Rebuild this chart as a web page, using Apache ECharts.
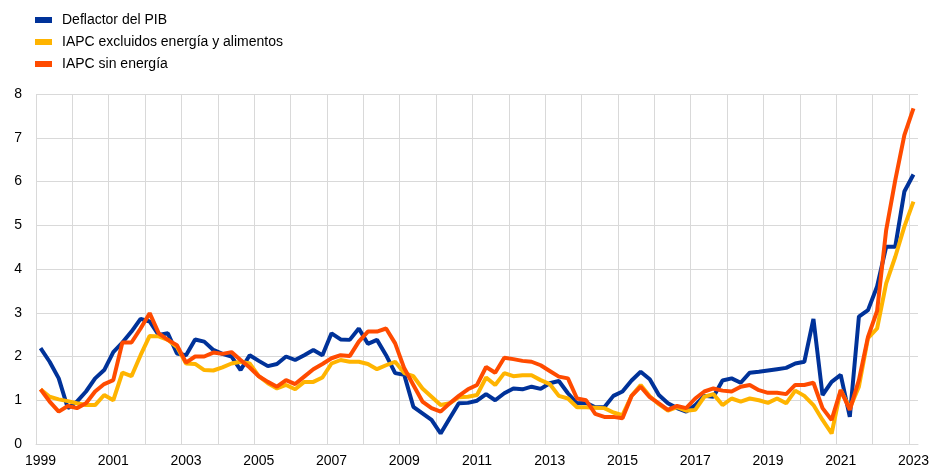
<!DOCTYPE html>
<html>
<head>
    <meta charset="utf-8">
    <title>Deflactor del PIB e IAPC</title>
    <style>
        body {margin: 0; background: #fff;}
        #main {width: 933px; height: 471px;}
    </style>
</head>
<body>
<div id="main"></div>
<script src="https://cdn.jsdelivr.net/npm/echarts@6/dist/echarts.min.js"></script>
<script type="text/javascript">
// trimestres 1999T1 - 2023T1
var quarters = [];
for (var y = 1999; y <= 2023; y++) {
    for (var q = 1; q <= 4; q++) {
        if (y === 2023 && q > 1) break;
        quarters.push(y + ' T' + q);
    }
}

var deflactor = [
    2.19, 1.88, 1.5, 0.82,   0.97, 1.2, 1.5, 1.69,    2.1, 2.32, 2.57, 2.86,
    2.8, 2.49, 2.53, 2.07,   2.03, 2.39, 2.34, 2.15,  2.06, 2.0, 1.69, 2.03,
    1.9, 1.78, 1.83, 2.0,    1.92, 2.03, 2.15, 2.03,  2.53, 2.39, 2.38, 2.64,
    2.29, 2.38, 2.03, 1.62,  1.58, 0.85, 0.7, 0.55,   0.24, 0.59, 0.93, 0.94,
    0.99, 1.14, 1.0, 1.16,   1.27, 1.25, 1.31, 1.26,  1.39, 1.44, 1.16, 0.93,
    0.94, 0.84, 0.84, 1.1,   1.2, 1.45, 1.65, 1.48,   1.12, 0.93, 0.82, 0.74,
    0.89, 1.1, 1.08, 1.45,   1.5, 1.4, 1.63, 1.65,    1.68, 1.71, 1.74, 1.84,
    1.88, 2.86, 1.12, 1.42,  1.58, 0.62, 2.91, 3.06,  3.6, 4.51, 4.51, 5.77,
    6.16
];

var iapcSubyacente = [
    1.25, 1.08, 1.02, 0.98,  0.93, 0.89, 0.89, 1.12,  1.0, 1.63, 1.55, 2.03,
    2.47, 2.46, 2.38, 2.22,  1.84, 1.83, 1.69, 1.68,  1.75, 1.84, 1.88, 1.84,
    1.55, 1.39, 1.27, 1.35,  1.25, 1.42, 1.42, 1.52,  1.84, 1.92, 1.88, 1.88,
    1.83, 1.71, 1.8, 1.88,   1.62, 1.55, 1.27, 1.08,  0.89, 0.93, 1.07, 1.08,
    1.12, 1.52, 1.35, 1.62,  1.55, 1.57, 1.57, 1.46,  1.37, 1.1, 1.04, 0.84,
    0.84, 0.83, 0.82, 0.72,  0.66, 1.1, 1.35, 1.09,   0.91, 0.76, 0.84, 0.76,
    0.78, 1.08, 1.14, 0.89,  1.04, 0.97, 1.04, 1.0,   0.94, 1.04, 0.93, 1.22,
    1.1, 0.89, 0.55, 0.24,   1.23, 0.82, 1.31, 2.42,  2.64, 3.67, 4.28, 4.97,
    5.54
];

var iapcSinEnergia = [
    1.25, 0.97, 0.74, 0.87,  0.82, 0.93, 1.2, 1.37,   1.46, 2.32, 2.32, 2.64,
    2.99, 2.53, 2.38, 2.26,  1.86, 2.0, 2.0, 2.09,    2.06, 2.1, 1.92, 1.75,
    1.55, 1.42, 1.31, 1.46,  1.37, 1.54, 1.71, 1.83,  1.96, 2.03, 2.01, 2.34,
    2.57, 2.57, 2.64, 2.3,   1.73, 1.35, 0.97, 0.82,  0.74, 0.93, 1.1, 1.25,
    1.35, 1.76, 1.63, 1.97,  1.94, 1.9, 1.88, 1.8,    1.67, 1.54, 1.5, 1.04,
    1.0, 0.69, 0.62, 0.62,   0.59, 1.1, 1.31, 1.07,   0.93, 0.78, 0.87, 0.82,
    1.04, 1.2, 1.27, 1.22,   1.2, 1.31, 1.35, 1.23,   1.17, 1.17, 1.14, 1.35,
    1.35, 1.4, 0.82, 0.55,   1.23, 0.78, 1.46, 2.45,  3.04, 4.89, 6.03, 7.06,
    7.67
];

var seriesNames = ['Deflactor del PIB', 'IAPC excluidos energía y alimentos', 'IAPC sin energía'];
var seriesColors = ['#003299', '#ffb400', '#ff4b00'];
var seriesData = [deflactor, iapcSubyacente, iapcSinEnergia];

var gridColor = '#d9d9d9';
var fontFamily = '"Liberation Sans", Arial, sans-serif';

var series = [];
for (var i = 0; i < seriesNames.length; i++) {
    series.push({
        name: seriesNames[i],
        type: 'line',
        data: seriesData[i],
        symbol: 'none',
        smooth: false,
        lineStyle: { color: seriesColors[i], width: 4 },
        itemStyle: { color: seriesColors[i] }
    });
}

var myChart = echarts.init(document.getElementById('main'));
myChart.setOption({
    animation: false,
    textStyle: { fontFamily: fontFamily },
    legend: {
        orient: 'vertical',
        left: 30,
        top: 8,
        icon: 'rect',
        itemWidth: 17,
        itemHeight: 6,
        itemGap: 8,
        textStyle: { fontSize: 14, color: '#000', fontFamily: fontFamily, padding: [0, 0, 0, 5] },
        data: seriesNames
    },
    grid: { left: 36, right: 15, top: 94, bottom: 27, containLabel: false },
    xAxis: {
        type: 'category',
        data: quarters,
        boundaryGap: true,
        axisLine: { show: true, lineStyle: { color: gridColor, width: 1 } },
        axisTick: { show: false },
        axisLabel: {
            interval: function (idx) { return idx % 8 === 0; },
            formatter: function (v) { return v.slice(0, 4); },
            fontSize: 14,
            color: '#000',
            margin: 10
        },
        splitLine: {
            show: true,
            showMaxLine: false,
            interval: function (idx) { return idx % 4 === 0; },
            lineStyle: { color: gridColor, width: 1 }
        }
    },
    yAxis: {
        type: 'value',
        min: 0,
        max: 8,
        interval: 1,
        axisLine: { show: false },
        axisTick: { show: false },
        axisLabel: { fontSize: 14, color: '#000', margin: 14 },
        splitLine: { lineStyle: { color: gridColor, width: 1 } }
    },
    series: series
});
</script>
</body>
</html>
